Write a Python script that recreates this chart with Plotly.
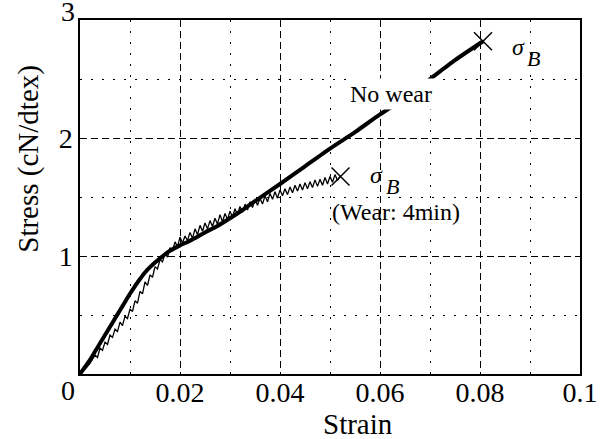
import plotly.graph_objects as go

# ---------------- data ----------------
nowear_strain = [0, 0.001, 0.002, 0.003, 0.004, 0.005, 0.006, 0.007, 0.008, 0.009,
                 0.010, 0.011, 0.012, 0.013, 0.014, 0.015, 0.016, 0.017, 0.018, 0.020,
                 0.022, 0.025, 0.0275, 0.030, 0.0325, 0.035, 0.040, 0.045, 0.050, 0.055,
                 0.060, 0.065, 0.070, 0.075, 0.0806]
nowear_stress = [0, 0.06, 0.12, 0.19, 0.26, 0.33, 0.40, 0.47, 0.54, 0.61,
                 0.68, 0.745, 0.805, 0.86, 0.905, 0.945, 0.98, 1.015, 1.045, 1.09,
                 1.13, 1.20, 1.255, 1.32, 1.39, 1.465, 1.61, 1.76, 1.91, 2.05,
                 2.20, 2.34, 2.50, 2.66, 2.82]

wear_strain = [0.000, 0.001, 0.002, 0.003, 0.0035, 0.004, 0.0045, 0.005, 0.0055, 0.006,
               0.0065, 0.007, 0.0075, 0.008, 0.0085, 0.009, 0.0095, 0.010, 0.0105, 0.011,
               0.0115, 0.012, 0.0125, 0.013, 0.0135, 0.014, 0.0145, 0.015, 0.0155, 0.016,
               0.0165, 0.017, 0.0175, 0.018, 0.0185, 0.019, 0.0195, 0.020, 0.0205, 0.021,
               0.0215, 0.022, 0.0225, 0.023, 0.0235, 0.024, 0.0245, 0.025, 0.0255, 0.026,
               0.0265, 0.027, 0.0275, 0.028, 0.0285, 0.029, 0.0295, 0.030, 0.0305, 0.031,
               0.0315, 0.032, 0.0325, 0.033, 0.0335, 0.034, 0.0345, 0.035, 0.0355, 0.036,
               0.0365, 0.037, 0.0375, 0.038, 0.0385, 0.039, 0.0395, 0.040, 0.0405, 0.041,
               0.0415, 0.042, 0.0425, 0.043, 0.0435, 0.044, 0.0445, 0.045, 0.0455, 0.046,
               0.0465, 0.047, 0.0475, 0.048, 0.0485, 0.049, 0.0495, 0.050, 0.0505, 0.051,
               0.0515, 0.052]
wear_stress = [0.00, 0.04, 0.09, 0.16, 0.14, 0.22, 0.20, 0.27, 0.25, 0.33,
               0.31, 0.38, 0.36, 0.44, 0.41, 0.49, 0.47, 0.55, 0.53, 0.62,
               0.60, 0.70, 0.68, 0.78, 0.75, 0.84, 0.82, 0.91, 0.89, 0.97,
               0.95, 1.02, 0.99, 1.07, 1.04, 1.12, 1.08, 1.16, 1.11, 1.17,
               1.13, 1.20, 1.15, 1.23, 1.18, 1.26, 1.21, 1.28, 1.23, 1.30,
               1.25, 1.32, 1.27, 1.35, 1.29, 1.36, 1.31, 1.38, 1.33, 1.40,
               1.35, 1.42, 1.37, 1.44, 1.39, 1.46, 1.41, 1.48, 1.43, 1.49,
               1.44, 1.51, 1.46, 1.53, 1.48, 1.545, 1.49, 1.56, 1.51, 1.57,
               1.52, 1.585, 1.535, 1.60, 1.55, 1.61, 1.56, 1.62, 1.57, 1.63,
               1.58, 1.645, 1.59, 1.65, 1.60, 1.665, 1.61, 1.675, 1.625, 1.69,
               1.64, 1.675]

break_strain = [0.0806, 0.0521]
break_stress = [2.82, 1.673]

x_tickvals = [0.02, 0.04, 0.06, 0.08, 0.1]
x_ticktext = ["0.02", "0.04", "0.06", "0.08", "0.1"]
y_tickvals = [1, 2]
y_ticktext = ["1", "2"]

SERIF = "Liberation Serif"

fig = go.Figure()
fig.add_trace(go.Scatter(x=wear_strain, y=wear_stress, mode="lines",
                         line=dict(color="black", width=1.3), showlegend=False))
fig.add_trace(go.Scatter(x=nowear_strain, y=nowear_stress, mode="lines",
                         line=dict(color="black", width=4, shape="spline", smoothing=0.6),
                         showlegend=False))
fig.add_trace(go.Scatter(x=break_strain, y=break_stress, mode="markers",
                         marker=dict(symbol="x-thin", size=18,
                                     line=dict(color="black", width=1.5)),
                         showlegend=False))

gridcol = "black"
fig.update_xaxes(range=[0, 0.1], tickvals=x_tickvals, ticktext=x_ticktext,
                 showgrid=True, gridcolor=gridcol, gridwidth=1, griddash="7px,4px",
                 minor=dict(dtick=0.01, tick0=0, showgrid=True, gridcolor=gridcol,
                            gridwidth=1, griddash="2px,9px"),
                 showline=True, linecolor="black", linewidth=1.5, mirror=True,
                 zeroline=False, ticks="", ticklabelstandoff=-7,
                 tickfont=dict(family=SERIF, size=28, color="black"))
fig.update_yaxes(range=[0, 3], tickvals=y_tickvals, ticktext=y_ticktext,
                 showgrid=True, gridcolor=gridcol, gridwidth=1, griddash="7px,4px",
                 minor=dict(dtick=0.5, tick0=0, showgrid=True, gridcolor=gridcol,
                            gridwidth=1, griddash="2px,9px"),
                 showline=True, linecolor="black", linewidth=1.5, mirror=True,
                 zeroline=False, ticks="",
                 tickfont=dict(family=SERIF, size=28, color="black"))

ann = []
# shifted corner tick labels
ann.append(dict(x=0, y=0, xref="x", yref="y", text="0", showarrow=False,
                xanchor="center", yanchor="top", xshift=-12, yshift=1,
                font=dict(family=SERIF, size=28, color="black")))
ann.append(dict(x=0, y=3, xref="x", yref="y", text="3", showarrow=False,
                xanchor="right", yanchor="middle", xshift=-3, yshift=9,
                font=dict(family=SERIF, size=28, color="black")))
# axis titles
ann.append(dict(x=0.0556, y=-0.142, xref="x", yref="paper", text="Strain", showarrow=False,
                xanchor="center", yanchor="middle",
                font=dict(family=SERIF, size=29, color="black")))
ann.append(dict(x=-0.103, y=1.82, xref="paper", yref="y", text="Stress (cN/dtex)",
                showarrow=False, textangle=-90, xanchor="center", yanchor="middle",
                font=dict(family=SERIF, size=29, color="black")))
# in-plot labels
ann.append(dict(x=0.0622, y=2.37, xref="x", yref="y", text="No wear", showarrow=False,
                bgcolor="white", borderpad=2,
                font=dict(family=SERIF, size=24, color="black")))
ann.append(dict(x=0.0631, y=1.372, xref="x", yref="y", text="(Wear: 4min)", showarrow=False,
                font=dict(family=SERIF, size=24, color="black")))
for sx, sy in [(0.0876, 2.775), (0.0593, 1.69)]:
    ann.append(dict(x=sx, y=sy, xref="x", yref="y", text="<i>σ</i>", showarrow=False,
                    font=dict(family=SERIF, size=24, color="black")))
    ann.append(dict(x=sx + 0.0031, y=sy - 0.105, xref="x", yref="y", text="<i>B</i>",
                    showarrow=False, font=dict(family=SERIF, size=22, color="black")))

fig.update_layout(width=610, height=439, margin=dict(l=80, r=27, t=20, b=65),
                  paper_bgcolor="white", plot_bgcolor="white", annotations=ann,
                  font=dict(family=SERIF, color="black"))

fig.write_html("out.html")
